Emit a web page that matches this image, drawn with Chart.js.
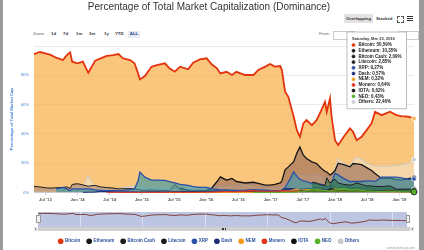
<!DOCTYPE html>
<html><head><meta charset="utf-8">
<script src="https://cdn.jsdelivr.net/npm/chart.js@4.4.1/dist/chart.umd.min.js"></script>
<style>
html,body{margin:0;padding:0;background:#fff;}
body{width:424px;height:250px;position:relative;overflow:hidden;font-family:"Liberation Sans",Arial,sans-serif;}
.abs{position:absolute;white-space:nowrap;}
.btn{font-size:4.3px;font-weight:bold;color:#333;line-height:8px;}
.lbl{font-size:4.3px;color:#666;line-height:8px;}
</style></head><body>
<div class="abs" style="left:0;top:0;width:3px;height:250px;background:#9b9b9b"></div>
<div class="abs" style="right:0;top:0;width:5px;height:250px;background:#9b9b9b"></div>

<div class="abs" style="left:344px;top:14px;width:29px;height:9px;background:#e3e3e3"></div>
<div class="abs btn" style="left:344px;top:14.5px;width:29px;text-align:center">Overlapping</div>
<div class="abs btn" style="left:376px;top:14.5px">Stacked</div>
<div class="abs" style="left:397px;top:16px;width:2px;height:2px;border-left:0.7px solid #555;border-top:0.7px solid #555"></div>
<div class="abs" style="left:401px;top:16px;width:2px;height:2px;border-right:0.7px solid #555;border-top:0.7px solid #555"></div>
<div class="abs" style="left:397px;top:19.5px;width:2px;height:2px;border-left:0.7px solid #555;border-bottom:0.7px solid #555"></div>
<div class="abs" style="left:401px;top:19.5px;width:2px;height:2px;border-right:0.7px solid #555;border-bottom:0.7px solid #555"></div>
<div class="abs" style="left:407px;top:16px;width:6px;height:1.1px;background:#333"></div>
<div class="abs" style="left:407px;top:18.2px;width:6px;height:1.1px;background:#333"></div>
<div class="abs" style="left:407px;top:20.4px;width:6px;height:1.1px;background:#333"></div>

<div class="abs lbl" style="left:33px;top:30.3px">Zoom</div>
<div class="abs btn" style="left:51px;top:30.3px">1d</div>
<div class="abs btn" style="left:63px;top:30.3px">7d</div>
<div class="abs btn" style="left:76px;top:30.3px">1m</div>
<div class="abs btn" style="left:89px;top:30.3px">3m</div>
<div class="abs btn" style="left:104px;top:30.3px">1y</div>
<div class="abs btn" style="left:115px;top:30.3px">YTD</div>
<div class="abs" style="left:128px;top:30.5px;width:12px;height:7.5px;background:#e6ebf5"></div>
<div class="abs btn" style="left:128px;top:30.3px;width:12px;text-align:center;color:#1f3f8f">ALL</div>
<div class="abs lbl" style="left:319px;top:30.3px">From</div>
<div class="abs" style="left:333px;top:30.5px;width:20px;height:7px;border:0.6px solid #ccc;overflow:hidden"><span class="btn" style="font-weight:normal;line-height:7px;padding-left:1px">Apr 28, 2013</span></div>
<div class="abs" style="left:399px;top:30.5px;width:18px;height:7px;border:0.6px solid #ccc;overflow:hidden;text-align:right"><span class="btn" style="font-weight:normal;line-height:7px;padding-right:1px">Mar 23, 2019</span></div>

<canvas id="nav" class="abs" width="369" height="15" style="left:38px;top:212px"></canvas>
<canvas id="main" class="abs" width="424" height="250" style="left:0;top:0"></canvas>

<div class="abs" style="left:36px;top:215px;width:2.5px;height:6px;background:#f2f2f2;border:0.6px solid #999"></div>
<div class="abs" style="left:405.5px;top:215px;width:2.5px;height:6px;background:#f2f2f2;border:0.6px solid #999"></div>
<div class="abs" style="left:34px;top:227px;width:380px;height:4px;background:#cfcfcf"></div>
<div class="abs" style="left:34px;top:227px;width:4px;height:4px;background:#e6e6e6"></div>
<div class="abs" style="left:410px;top:227px;width:4px;height:4px;background:#e6e6e6"></div>
<div class="abs" style="left:35px;top:228px;width:0;height:0;border-top:1px solid transparent;border-bottom:1px solid transparent;border-right:1.5px solid #333"></div>
<div class="abs" style="left:411.5px;top:228px;width:0;height:0;border-top:1px solid transparent;border-bottom:1px solid transparent;border-left:1.5px solid #333"></div>
<div class="abs" style="left:222px;top:228px;width:0.5px;height:2px;background:#333"></div>
<div class="abs" style="left:223.3px;top:228px;width:0.5px;height:2px;background:#333"></div>
<div class="abs" style="left:224.6px;top:228px;width:0.5px;height:2px;background:#333"></div>
<div class="abs" style="right:9px;top:245.5px;font-size:3.3px;color:#999">coinmarketcap.com</div>

<script>
// ---------- data ----------
const chartTitle = 'Percentage of Total Market Capitalization (Dominance)';
const yTitle = 'Percentage of Total Market Cap';
const tooltipDate = 'Saturday, Mar 23, 2019';

const dates = ['2013-04-28','2013-06-01','2013-07-01','2013-08-01','2013-09-01','2013-10-10','2013-11-01','2013-11-20','2013-12-01','2014-01-01',
'2014-02-01','2014-03-01','2014-03-10','2014-04-10','2014-05-10','2014-06-15','2014-07-20','2014-08-20','2014-09-15','2014-10-25',
'2014-11-20','2014-12-10','2014-12-20','2015-01-18','2015-02-25','2015-03-25','2015-05-10','2015-06-05','2015-07-05','2015-08-05',
'2015-09-20','2015-10-18','2015-11-25','2016-01-03','2016-02-01','2016-03-01','2016-03-20','2016-04-25','2016-05-25','2016-06-20',
'2016-08-08','2016-09-25','2016-10-22','2016-12-01','2016-12-28','2017-01-25','2017-02-25','2017-03-04','2017-03-22','2017-04-10',
'2017-05-10','2017-05-28','2017-06-15','2017-07-04','2017-07-22','2017-08-22','2017-09-18','2017-10-15','2017-11-05','2017-11-15',
'2017-12-03','2017-12-12','2018-01-01','2018-01-19','2018-02-20','2018-03-25','2018-04-12','2018-05-02','2018-05-30','2018-06-28',
'2018-07-26','2018-08-15','2018-09-22','2018-11-08','2018-12-15','2019-01-12','2019-02-22','2019-03-23'];

// each series runs up to the last date; shorter series start later
const bitcoin = [94.5,95.9,95.0,93.9,92.0,90.4,93.8,95.7,89.3,88.2,
 89.3,81.7,83.6,90.0,91.6,93.2,93.8,94.5,91.6,90.4,
 88.2,81.3,77.2,79.5,85.8,87.0,88.2,84.8,82.5,85.9,
 84.1,88.6,90.9,91.6,87.5,84.8,81.3,82.4,80.2,82.4,
 80.2,80.2,83.6,85.9,87.7,85.9,86.3,83.6,68.8,65.3,
 51.7,42.6,38.0,47.2,49.4,46.0,49.4,56.3,61.9,55.1,
 64.3,51.7,35.7,32.3,38.0,43.7,41.4,35.7,38.0,42.6,
 47.2,55.1,52.8,55.1,52.8,52.2,51.7,50.59];
const ethereum = [3.0,1.5,0.8,0.9,1.5,3.0,7.5,10.7,8.4,9.6,7.5,
 6.5,7.0,6.2,5.0,5.0,5.5,6.5,8.0,15.5,17.5,
 21.0,27.0,31.0,25.5,23.2,20.9,19.8,16.4,14.5,14.0,
 12.0,12.5,15.0,20.0,19.0,17.5,19.8,19.5,19.0,17.0,
 15.0,13.0,9.6,9.8,8.8,8.5,9.4,10.35];
const bitcoinCash = [7.0,6.5,5.0,5.0,10.0,6.5,7.5,9.0,6.5,5.5,5.0,5.5,6.5,5.5,4.5,4.5,4.2,4.0,4.5,2.3,2.3,2.2,2.09];
const litecoin = [4.2,3.8,3.2,3.0,3.2,3.5,3.8,2.8,5.5,6.0,
 5.2,4.2,4.5,4.8,3.8,3.4,3.0,2.5,2.6,2.6,
 2.5,2.0,1.8,1.5,1.8,1.5,1.5,1.3,5.5,2.2,
 1.7,1.4,1.5,1.5,1.3,1.2,1.0,1.0,1.0,1.0,
 1.0,0.9,0.9,1.0,1.0,1.2,1.1,1.2,1.2,2.2,
 2.6,2.0,2.3,2.6,2.7,2.8,3.4,3.0,2.5,2.0,
 2.4,4.8,3.4,2.9,4.1,3.7,3.0,3.4,3.0,3.2,
 3.2,2.6,2.5,2.5,1.8,1.6,2.3,2.85];
const xrp = [2.5,3.5,2.5,1.2,2.5,2.5,
 2.5,2.5,2.5,1.8,1.5,1.2,1.3,1.3,1.5,2.0,
 2.5,8.0,13.9,10.5,8.5,8.5,8.3,7.5,6.5,5.5,
 4.8,4.0,3.5,3.5,2.5,2.2,1.8,1.8,1.6,1.5,
 1.6,2.0,1.8,1.6,1.4,1.3,1.3,1.5,3.5,7.0,
 14.0,11.0,9.0,8.0,7.5,6.0,6.0,5.5,4.5,3.8,
 4.0,7.0,13.0,12.0,9.5,7.5,7.5,7.5,7.5,8.0,
 8.0,7.5,10.5,10.5,10.5,10.0,9.0,9.27];
const dash = [0.1,0.2,0.2,0.3,0.8,0.6,0.5,0.4,0.4,0.4,
 0.4,0.3,0.3,0.4,0.5,0.5,0.4,0.5,0.5,0.6,
 0.7,0.6,0.6,0.6,0.7,0.8,0.9,0.8,0.6,0.6,
 0.7,0.6,0.8,0.6,0.6,0.8,1.0,1.6,2.5,2.8,
 2.6,1.8,1.2,1.3,1.6,1.6,2.0,1.9,1.8,1.7,
 2.1,1.8,1.8,1.6,1.5,1.4,1.3,1.3,1.2,1.2,
 1.0,1.0,1.0,1.0,0.8,0.6,0.6,0.57];
const nem = [0.05,0.05,0.05,0.04,0.04,0.04,0.04,0.04,0.05,0.05,
 0.05,0.06,0.07,0.07,0.06,0.06,0.06,0.05,0.05,0.06,
 0.1,0.3,0.6,0.8,2.0,2.2,1.6,1.6,2.0,1.8,
 1.8,1.6,1.4,1.4,1.5,1.5,2.5,2.0,1.6,1.3,
 1.2,1.6,1.2,1.0,0.8,0.6,0.5,0.5,0.5,0.4,
 0.35,0.32];
const monero = [0.1,0.15,0.15,0.1,0.1,0.1,0.1,0.1,0.1,0.1,0.1,0.1,0.1,0.1,0.1,0.1,0.1,0.15,0.2,0.3,0.4,0.5,0.6,0.5,0.5,
 1.0,1.5,1.0,0.9,0.9,1.0,1.2,1.3,1.2,1.0,
 0.8,0.8,0.6,0.7,0.8,1.2,1.3,1.2,1.1,1.1,
 1.2,1.1,1.0,0.9,1.0,1.0,1.1,1.1,0.9,0.8,
 0.8,0.8,0.8,1.0,0.8,0.7,0.6,0.64];
const iota = [1.3,0.9,0.8,1.2,1.0,0.9,0.8,0.7,2.5,2.7,
 1.8,1.4,1.4,1.1,1.1,1.3,1.2,1.1,1.1,0.8,
 0.8,0.9,0.7,0.7,0.7,0.62];
const neo = [0.1,0.05,0.05,0.05,0.05,0.1,0.1,0.1,0.1,0.2,
 0.4,0.5,0.8,1.0,2.2,1.8,1.5,1.3,1.2,1.0,
 1.5,1.8,2.5,2.7,1.8,1.8,2.0,1.5,1.1,1.0,
 0.8,0.7,0.8,0.6,0.5,0.5,0.43];
const others = [1.5,1.5,1.8,2.2,2.5,3.5,2.5,1.6,3.5,4.5,
 4.0,11.8,9.0,4.0,3.5,2.5,2.3,2.0,3.5,4.0,
 4.5,4.0,4.5,3.5,3.0,2.8,2.5,3.5,3.5,3.0,
 4.0,3.0,2.5,2.5,4.0,4.0,4.5,4.5,5.0,5.0,
 6.0,5.0,4.0,3.5,3.5,3.5,3.5,4.0,6.0,8.0,
 11.0,12.5,12.8,12.0,11.5,12.5,12.5,11.0,10.5,10.5,
 10.5,13.0,16.0,23.0,20.0,18.0,22.0,24.0,23.0,20.0,
 18.7,18.0,18.0,18.0,18.5,19.0,20.0,22.46];

const tickDates = ['2013-07-01','2014-01-01','2014-07-01','2015-01-01','2015-07-01','2016-01-01','2016-07-01','2017-01-01','2017-07-01','2018-01-01','2018-07-01','2019-01-01'];
const tickLabels = ["Jul '13","Jan '14","Jul '14","Jan '15","Jul '15","Jan '16","Jul '16","Jan '17","Jul '17","Jan '18","Jul '18","Jan '19"];
const navTickDates = ['2014-01-01','2015-01-01','2016-01-01','2017-01-01','2018-01-01','2019-01-01'];
const navLabels = ['2014','2015','2016','2017','2018','2019'];
const yTicks = [0,20,40,60,80,100];

// ---------- styles ----------
const FONT = '"Liberation Sans", Arial, sans-serif';
Chart.defaults.font.family = FONT;
const seriesList = [
  {label:'Bitcoin', values:bitcoin, color:'#e3340f', fill:'rgba(247,167,55,0.65)', width:1.8, order:11, hov:'#f8b45a'},
  {label:'Ethereum', values:ethereum, color:'#141414', fill:'rgba(150,105,85,0.62)', width:1.3, order:9},
  {label:'Bitcoin Cash', values:bitcoinCash, color:'#1b1b1b', fill:'rgba(40,110,70,0.6)', width:1, order:6},
  {label:'Litecoin', values:litecoin, color:'#1a1a1a', fill:'rgba(160,120,95,0.5)', width:1, order:8},
  {label:'XRP', values:xrp, color:'#2a4fa6', fill:'rgba(60,150,165,0.65)', width:1.3, order:7},
  {label:'Dash', values:dash, color:'#1c2a7a', fill:'rgba(28,42,122,0.6)', width:1, order:5},
  {label:'NEM', values:nem, color:'#f39a1e', fill:'rgba(243,154,30,0.5)', width:1, order:4},
  {label:'Monero', values:monero, color:'#e2341d', fill:'rgba(226,52,29,0.5)', width:1, order:3},
  {label:'IOTA', values:iota, color:'#111111', fill:'rgba(30,30,30,0.5)', width:1, order:2},
  {label:'NEO', values:neo, color:'#58b12a', fill:'rgba(88,177,42,0.6)', width:1, order:1, hovBorder:'#111', hovR:3},
  {label:'Others', values:others, color:'#c9c9c9', fill:'rgba(245,235,225,0.45)', width:1, order:10}
];

const toM = s => { const [y,m,d] = s.split('-').map(Number); return (y-2013)*12 + (m-1) + (d-1)/30.5; };
const months = dates.map(toM);
const xMin = months[0], xMax = months[months.length-1];
const pts = vals => { const off = dates.length - vals.length; return vals.map((v,i)=>({x: months[off+i], y: v})); };
const fmt = v => v.toFixed(2).replace('.', ',') + '%';

const datasets = seriesList.map(s => ({
  label: s.label, data: pts(s.values), borderColor: s.color, backgroundColor: s.fill,
  borderWidth: s.width, fill: 'origin', order: s.order, tension: 0, pointRadius: 0,
  pointHoverRadius: s.hovR || 2.3, pointHoverBackgroundColor: s.hov || s.color,
  pointHoverBorderColor: s.hovBorder || '#ffffff', pointHoverBorderWidth: 0.8, clip: false
}));

Chart.Tooltip.positioners.fixedBox = function(){ return {x: 347, y: 32, xAlign: 'left', yAlign: 'top'}; };

const chart = new Chart(document.getElementById('main'), {
  type: 'line',
  data: { datasets },
  options: {
    responsive: false, animation: false, events: [],
    layout: {padding: {left: 4, right: 10, top: 0, bottom: -3.5}},
    interaction: {mode: 'index', intersect: false},
    scales: {
      x: {type: 'linear', min: xMin, max: xMax,
        afterBuildTicks: s => { s.ticks = tickDates.map(d => ({value: toM(d)})); },
        afterFit: s => { s.height = 39.5; },
        ticks: {autoSkip: false, maxRotation: 0, padding: 2, font: {size: 4.2, weight: 'bold'}, color: '#555',
          callback: (v, i) => tickLabels[i]},
        grid: {drawOnChartArea: false, drawTicks: true, tickLength: 3, color: '#ccd6eb'},
        border: {color: '#ccd6eb', width: 1}},
      y: {min: 0, max: 100,
        afterBuildTicks: s => { s.ticks = yTicks.map(v => ({value: v})); },
        afterFit: s => { s.width = 30; },
        ticks: {padding: 5, font: {size: 4}, color: '#3f7fd4', callback: v => v === 100 ? '' : v + '%'},
        grid: {color: '#e6e6e6', lineWidth: 0.8, drawTicks: false},
        border: {display: false},
        title: {display: true, text: yTitle, color: '#3f7fd4', font: {size: 4.2, weight: 'bold'}, padding: {top: 5, bottom: 0}}}
    },
    plugins: {
      title: {display: true, text: chartTitle, color: '#333', font: {size: 10, weight: 'normal'}, padding: {top: 1, bottom: 33}},
      legend: {position: 'bottom',
        labels: {usePointStyle: true, boxWidth: 4, boxHeight: 4, padding: 7, color: '#2c4f9c',
          font: {size: 4.5, weight: 'bold'},
          generateLabels: c => c.data.datasets.map((ds, i) => ({text: ds.label, fillStyle: ds.borderColor,
            strokeStyle: ds.borderColor, lineWidth: 0, pointStyle: 'circle', hidden: false, datasetIndex: i, fontColor: '#2c4f9c'}))}},
      tooltip: {enabled: true, position: 'fixedBox', xAlign: 'left', yAlign: 'top', animation: false,
        backgroundColor: 'rgba(255,255,255,0.95)', borderColor: '#a0a0a0', borderWidth: 0.7,
        titleColor: '#333', bodyColor: '#222', titleFont: {size: 4}, bodyFont: {size: 4.5, weight: 'bold'},
        padding: {left: 5, right: 5, top: 4, bottom: 4}, caretSize: 0, caretPadding: 0, cornerRadius: 0,
        usePointStyle: true, boxWidth: 3, boxHeight: 3, boxPadding: 1.5, bodySpacing: 0.3, titleMarginBottom: 1.5,
        callbacks: {
          title: () => tooltipDate,
          label: c => c.dataset.label + ': ' + fmt(c.parsed.y),
          labelColor: c => ({borderColor: c.dataset.borderColor, backgroundColor: c.dataset.borderColor, borderWidth: 0}),
          labelPointStyle: () => ({pointStyle: 'circle', rotation: 0})
        }}
    }
  }
});

const act = datasets.map((d, i) => ({datasetIndex: i, index: d.data.length - 1}));
chart.setActiveElements(act);
chart.tooltip.setActiveElements(act, {x: 414, y: 118});
chart.update();

new Chart(document.getElementById('nav'), {
  type: 'line',
  data: {datasets: [{data: pts(bitcoin), borderColor: '#7c3328', borderWidth: 0.9, pointRadius: 0, fill: false, tension: 0}]},
  options: {responsive: false, animation: false, events: [],
    layout: {padding: 0},
    plugins: {legend: {display: false}, tooltip: {enabled: false}},
    scales: {
      x: {type: 'linear', min: xMin, max: xMax,
        afterBuildTicks: s => { s.ticks = navTickDates.map(d => ({value: toM(d)})); },
        afterFit: s => { s.height = 0; },
        ticks: {align: 'start', labelOffset: 2, padding: -6, font: {size: 4.2}, color: '#444', autoSkip: false, maxRotation: 0,
          callback: (v, i) => navLabels[i]},
        grid: {color: 'rgba(255,255,255,0.6)', drawTicks: false, lineWidth: 0.8}, border: {display: false}},
      y: {display: false, min: 12, max: 104}
    }
  },
  plugins: [{id: 'navbg', beforeDraw(c) { const {ctx, chartArea: a} = c; ctx.save(); ctx.fillStyle = '#bcc5e1';
    ctx.fillRect(a.left, a.top, a.right - a.left, a.bottom - a.top); ctx.restore(); }}]
});
</script>
</body></html>
